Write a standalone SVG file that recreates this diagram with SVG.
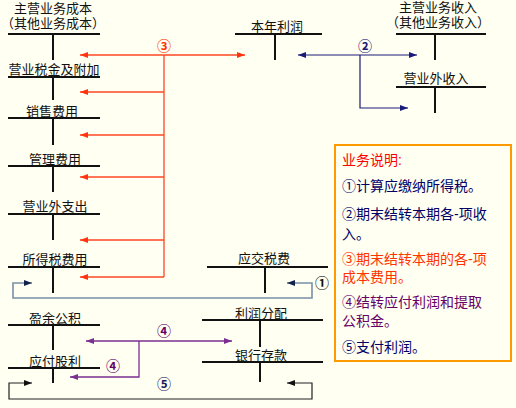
<svg xmlns="http://www.w3.org/2000/svg" width="516" height="408" viewBox="0 0 516 408">
<style>
.lbl{font-family:"Liberation Sans","Noto Sans CJK SC",sans-serif;font-size:13px;fill:#111;text-anchor:middle}
.num{font-family:"Liberation Sans","Noto Sans CJK SC",sans-serif;font-size:14px;font-weight:bold;text-anchor:middle}
.note{font-family:"Liberation Sans","Noto Sans CJK SC",sans-serif;font-size:14px}
.t{stroke:#111;stroke-width:2;fill:none}
.red{stroke:#FF4422;stroke-width:1.3;fill:none}
.blu{stroke:#1A1A7A;stroke-width:1.2;fill:none}
.pur{stroke:#7A3090;stroke-width:1.3;fill:none}
.stl{stroke:#7890A8;stroke-width:1.6;fill:none}
.blk{stroke:#222;stroke-width:1.2;fill:none}
</style>
<defs>
<marker id="ar" viewBox="0 0 8 6" refX="8" refY="3" markerWidth="8" markerHeight="6" markerUnits="userSpaceOnUse" orient="auto-start-reverse"><path d="M0,0L8,3L0,6z" fill="#FF3311"/></marker>
<marker id="ab" viewBox="0 0 8 6" refX="8" refY="3" markerWidth="8" markerHeight="6" markerUnits="userSpaceOnUse" orient="auto-start-reverse"><path d="M0,0L8,3L0,6z" fill="#1A1A7A"/></marker>
<marker id="ap" viewBox="0 0 8 6" refX="8" refY="3" markerWidth="8" markerHeight="6" markerUnits="userSpaceOnUse" orient="auto-start-reverse"><path d="M0,0L8,3L0,6z" fill="#7A3090"/></marker>
<marker id="an" viewBox="0 0 8 6" refX="8" refY="3" markerWidth="8" markerHeight="6" markerUnits="userSpaceOnUse" orient="auto-start-reverse"><path d="M0,0L8,3L0,6z" fill="#12244A"/></marker>
<marker id="ak" viewBox="0 0 8 6" refX="8" refY="3" markerWidth="8" markerHeight="6" markerUnits="userSpaceOnUse" orient="auto-start-reverse"><path d="M0,0L8,3L0,6z" fill="#111"/></marker>
</defs>
<rect width="516" height="408" fill="#FFFFF2"/>

<g id="zyywcb"><text class="lbl" x="53" y="13">主营业务成本</text><text class="lbl" x="53" y="28">（其他业务成本）</text><path class="t" d="M8,34H100M53,34V60"/></g>
<g id="yysjjfj"><text class="lbl" x="54" y="74">营业税金及附加</text><path class="t" d="M8,77H100M53,77V100"/></g>
<g id="xsfy"><text class="lbl" x="52" y="116">销售费用</text><path class="t" d="M8,118H100M53,118V145"/></g>
<g id="glfy"><text class="lbl" x="55" y="164">管理费用</text><path class="t" d="M8,166H100M53,166V192"/></g>
<g id="yywzc"><text class="lbl" x="55" y="211">营业外支出</text><path class="t" d="M8,214H100M53,214V240"/></g>
<g id="sdsfy"><text class="lbl" x="55" y="264">所得税费用</text><path class="t" d="M8,267H100M53,267V293"/></g>
<g id="bnlr"><text class="lbl" x="277" y="31">本年利润</text><path class="t" d="M235,34H322M275,34V60"/></g>
<g id="zyywsr"><text class="lbl" x="438" y="12">主营业务收入</text><text class="lbl" x="438" y="27">（其他业务收入）</text><path class="t" d="M396,34H486M435,34V60"/></g>
<g id="yywsr"><text class="lbl" x="436" y="83">营业外收入</text><path class="t" d="M396,87H486M435,87V113"/></g>
<g id="yjsf"><text class="lbl" x="264" y="263">应交税费</text><path class="t" d="M207,267H328M265,267V293"/></g>
<g id="yygj"><text class="lbl" x="55" y="323">盈余公积</text><path class="t" d="M8,325H100M53,325V350"/></g>
<g id="yfgl"><text class="lbl" x="55" y="366">应付股利</text><path class="t" d="M8,368H100M53,368V383"/></g>
<g id="lrfp"><text class="lbl" x="261" y="318">利润分配</text><path class="t" d="M202,320H323M260,320V347"/></g>
<g id="yhck"><text class="lbl" x="261" y="360">银行存款</text><path class="t" d="M202,362H323M260,362V382"/></g>

<g id="connectors">
<path class="red" d="M80,55H245" marker-start="url(#ar)" marker-end="url(#ar)"/>
<path class="red" d="M164,55V277"/>
<path class="red" d="M164,92H80" marker-end="url(#ar)"/>
<path class="red" d="M164,135H80" marker-end="url(#ar)"/>
<path class="red" d="M164,177H80" marker-end="url(#ar)"/>
<path class="red" d="M164,240H80" marker-end="url(#ar)"/>
<path class="red" d="M164,277H80" marker-end="url(#ar)"/>
<text class="num" x="164" y="51" fill="#FF3300">③</text>

<path class="blu" d="M298,55H417" marker-start="url(#ab)" marker-end="url(#ab)"/>
<path class="blu" d="M360,55V108H408" marker-end="url(#ab)"/>
<text class="num" x="365" y="51" fill="#1A1A7A">②</text>

<path class="stl" d="M32,283H13V298H312V283H287" marker-start="url(#an)" marker-end="url(#an)"/>
<text class="num" x="322" y="288" fill="#111">①</text>

<path class="pur" d="M86,341H232" marker-start="url(#ap)" marker-end="url(#ap)"/>
<path class="pur" d="M139,341V377H70" marker-end="url(#ap)"/>
<text class="num" x="164" y="336" fill="#660066">④</text>
<text class="num" x="113" y="371" fill="#660066">④</text>

<path class="blk" d="M32,383H9V399H312V383H287" marker-start="url(#ak)" marker-end="url(#ak)"/>
<text class="num" x="164" y="389" fill="#1A1A5A">⑤</text>
</g>

<g id="notes">
<rect x="335" y="145" width="176" height="216" fill="none" stroke="#FF9900" stroke-width="2"/>
<text class="note" x="342" y="165" fill="#FF0000">业务说明:</text>
<text class="note" x="342" y="191" fill="#000066">①计算应缴纳所得税。</text>
<text class="note" x="342" y="219" fill="#000066">②期末结转本期各-项收</text>
<text class="note" x="342" y="239" fill="#000066">入。</text>
<text class="note" x="342" y="264" fill="#FF3300">③期末结转本期的各-项</text>
<text class="note" x="342" y="282" fill="#FF3300">成本费用。</text>
<text class="note" x="342" y="307" fill="#660066">④结转应付利润和提取</text>
<text class="note" x="342" y="326" fill="#660066">公积金。</text>
<text class="note" x="342" y="352" fill="#000066">⑤支付利润。</text>
</g>
</svg>
